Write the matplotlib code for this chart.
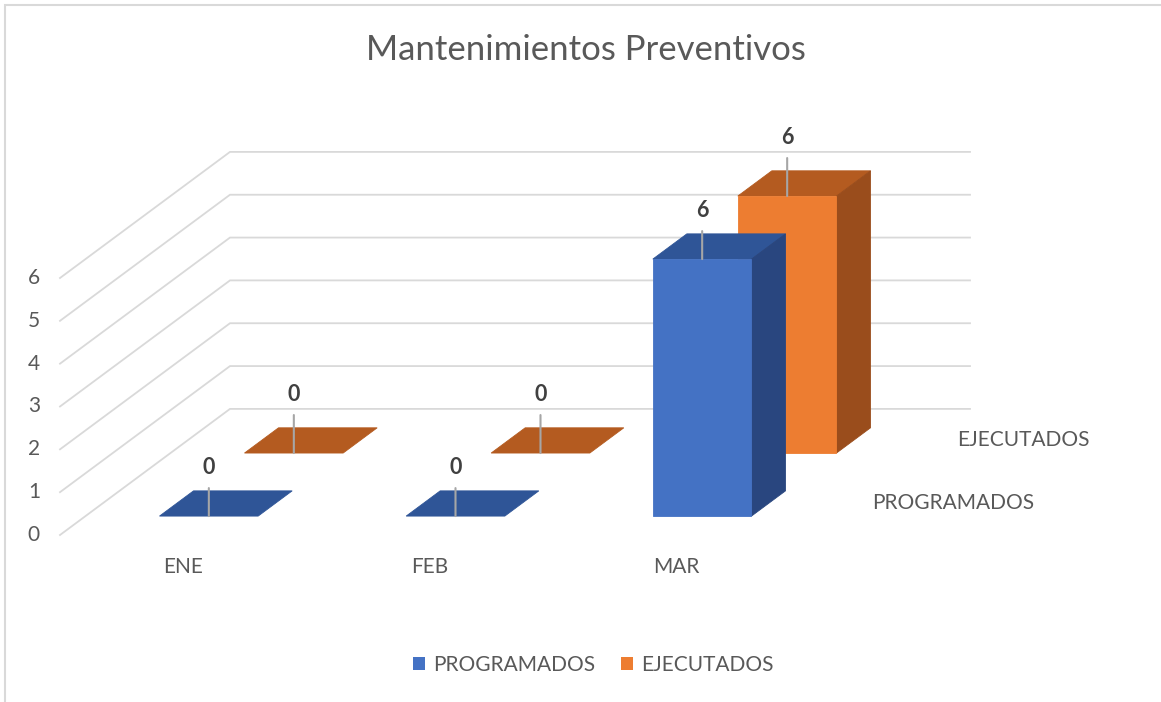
import matplotlib
matplotlib.use("Agg")
import matplotlib.pyplot as plt
from matplotlib.patches import Polygon, Patch, Rectangle

plt.rcParams['font.family'] = ['Lato', 'DejaVu Sans']

# data
title = "Mantenimientos Preventivos"
months = ["ENE", "FEB", "MAR"]
series_names = ["PROGRAMADOS", "EJECUTADOS"]
programados = [0, 0, 6]
ejecutados = [0, 0, 6]
y_ticks = [0, 1, 2, 3, 4, 5, 6]

# styles: (front, top, side)
colors = [("#4472C4", "#2F5597", "#29467F"),
          ("#ED7D31", "#B45B20", "#9A4D1C")]
grid_col = "#d9d9d9"
text_col = "#595959"

# oblique projection: one series step in depth shifts x and z (data units)
DX = 85 / 246.67
DZ = 63 / 42.8
bar_w = 0.4
bar_d = 0.4
leader = [28, 38]


def proj(x, d, z):
    return (x + d * DX, z + d * DZ)


fig = plt.figure(figsize=(11.61, 7.02), dpi=100)
ax = fig.add_axes([60 / 1161, (702 - 535) / 702, 740 / 1161, (535 - 278) / 702])
ax.set_xlim(-0.5, len(months) - 0.5)
ax.set_ylim(0, 6)
ax.axis("off")

x_lo, x_hi = -0.5, len(months) - 0.5
depth_back = len(series_names)

# walls: back wall gridlines and left wall diagonals
for k in y_ticks:
    p0 = proj(x_lo, 0, k)
    p1 = proj(x_lo, depth_back, k)
    p2 = proj(x_hi, depth_back, k)
    ax.plot([p0[0], p1[0], p2[0]], [p0[1], p1[1], p2[1]], color=grid_col,
            lw=1.3, clip_on=False, zorder=1, solid_joinstyle="miter")
    ax.annotate(str(k), xy=(x_lo, k), xytext=(-20, 0), textcoords="offset pixels",
                ha="right", va="center", fontsize=15, color=text_col,
                annotation_clip=False)

# bars, back series first
all_values = [programados, ejecutados]
for s in reversed(range(len(series_names))):
    vals = all_values[s]
    front, top, side = colors[s]
    d0 = s + 0.3
    d1 = d0 + bar_d
    zb = 3 - s
    for i, v in enumerate(vals):
        x0, x1 = i - bar_w / 2, i + bar_w / 2
        if v > 0:
            ax.add_patch(Polygon([proj(x0, d0, 0), proj(x1, d0, 0), proj(x1, d0, v), proj(x0, d0, v)],
                                 closed=True, fc=front, ec=front, lw=0.6, clip_on=False, zorder=zb + 0.02))
            ax.add_patch(Polygon([proj(x1, d0, 0), proj(x1, d1, 0), proj(x1, d1, v), proj(x1, d0, v)],
                                 closed=True, fc=side, ec=side, lw=0.6, clip_on=False, zorder=zb + 0.01))
        ax.add_patch(Polygon([proj(x0, d0, v), proj(x1, d0, v), proj(x1, d1, v), proj(x0, d1, v)],
                             closed=True, fc=top, ec=top, lw=0.6, clip_on=False, zorder=zb))
        # data label with leader line
        tip = proj(i, d0, v)
        ax.annotate("", xy=tip, xytext=(0, leader[s]), textcoords="offset pixels",
                    arrowprops=dict(arrowstyle="-", color="#a6a6a6", lw=1.5,
                                    shrinkA=0, shrinkB=0),
                    annotation_clip=False, zorder=zb + 0.05)
        ax.annotate(str(v), xy=tip, xytext=(0, leader[s] + 10), textcoords="offset pixels",
                    ha="center", va="bottom", fontsize=15.5, fontweight="bold",
                    color="#404040", annotation_clip=False, zorder=10)

# category labels
for i, m in enumerate(months):
    ax.annotate(m, xy=(i, 0), xytext=(0, -32), textcoords="offset pixels",
                ha="center", va="center", fontsize=15, color=text_col,
                annotation_clip=False)

# depth (series) labels
for s, name in enumerate(series_names):
    ax.annotate(name, xy=proj(x_hi, s + 0.5, 0), xytext=(30, 0), textcoords="offset pixels",
                ha="left", va="center", fontsize=15, color=text_col,
                annotation_clip=False)

fig.text(0.505, 1 - 50 / 702, title, ha="center", va="center", fontsize=25, color=text_col)

handles = [Patch(facecolor=colors[s][0], edgecolor="none") for s in range(len(series_names))]
fig.legend(handles, series_names, loc="center", bbox_to_anchor=(0.511, 1 - 665 / 702),
           ncol=2, frameon=False, fontsize=15, labelcolor=text_col,
           handlelength=0.6, handleheight=0.6, handletextpad=0.4, columnspacing=1.2)

# chart border (only top and left edges visible)
fig.add_artist(Rectangle((5 / 1161, -0.1), 1.2, 1.1 - 5 / 702, transform=fig.transFigure,
                         fill=False, ec=grid_col, lw=1.5))

fig.savefig("out.png", dpi=100)
